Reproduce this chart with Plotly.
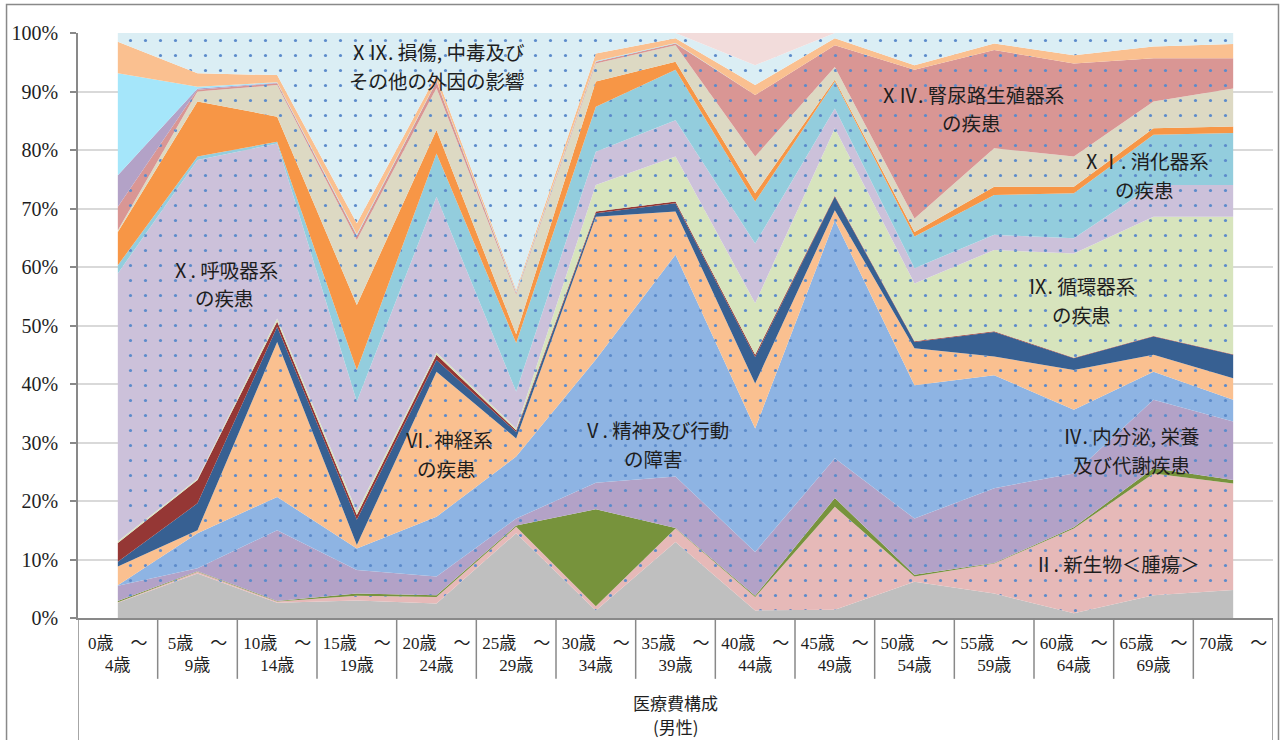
import plotly.graph_objects as go

# ---- categories ----
age_labels = ["0歳　～<br>4歳", "5歳　～<br>9歳", "10歳　～<br>14歳", "15歳　～<br>19歳",
              "20歳　～<br>24歳", "25歳　～<br>29歳", "30歳　～<br>34歳", "35歳　～<br>39歳",
              "40歳　～<br>44歳", "45歳　～<br>49歳", "50歳　～<br>54歳", "55歳　～<br>59歳",
              "60歳　～<br>64歳", "65歳　～<br>69歳", "70歳　～"]
y_ticks = [0, 10, 20, 30, 40, 50, 60, 70, 80, 90, 100]
y_tick_text = ["0%", "10%", "20%", "30%", "40%", "50%", "60%", "70%", "80%", "90%", "100%"]

# ---- series values (share of medical cost, %) ----
s01_infectious = [2.6, 7.6, 2.6, 3.0, 2.5, 14.5, 1.3, 13.0, 1.3, 1.4, 6.2, 4.2, 0.8, 3.9, 4.8]
s02_neoplasm   = [0.1, 0.3, 0.2, 0.8, 1.1, 1.1, 0.7, 2.3, 2.3, 17.6, 0.9, 5.1, 14.5, 20.8, 18.2]
s03_blood      = [0.2, 0.1, 0.1, 0.4, 0.3, 0.2, 16.6, 0.1, 0.2, 1.5, 0.3, 0.1, 0.2, 0.9, 0.6]
s04_endocrine  = [2.6, 0.5, 12.1, 4.0, 3.2, 1.2, 4.5, 8.8, 7.5, 6.8, 9.6, 12.8, 9.2, 11.7, 10.0]
s05_mental     = [0.1, 6.0, 5.7, 3.7, 10.2, 10.6, 21.1, 37.9, 21.1, 40.7, 22.8, 19.3, 10.9, 4.8, 3.7]
s06_nervous    = [3.2, 0.5, 26.5, 0.6, 24.8, 3.1, 24.4, 7.4, 7.7, 1.7, 6.3, 3.2, 6.8, 2.9, 3.7]
s07_eye        = [0.8, 4.6, 2.6, 4.3, 2.0, 1.1, 0.6, 1.4, 4.5, 2.3, 1.1, 4.2, 2.0, 3.1, 4.0]
s08_ear        = [3.2, 4.0, 0.9, 0.8, 0.9, 0.3, 0.3, 0.3, 0.4, 0.2, 0.1, 0.1, 0.1, 0.1, 0.1]
s09_circul     = [0.3, 0.2, 0.5, 0.6, 0.4, 0.3, 4.5, 7.7, 8.8, 11.5, 9.9, 13.9, 17.8, 20.4, 23.5]
s10_resp       = [45.8, 54.5, 29.9, 18.8, 26.6, 6.3, 5.7, 6.2, 10.2, 3.4, 2.6, 2.6, 2.6, 5.4, 5.4]
s11_digest     = [1.4, 0.6, 0.3, 5.4, 7.4, 8.3, 7.7, 8.6, 7.2, 4.6, 5.4, 6.8, 7.7, 8.6, 8.9]
s12_skin       = [5.7, 9.4, 4.3, 11.1, 4.0, 1.5, 4.3, 1.4, 1.4, 0.3, 0.8, 1.4, 1.1, 1.1, 1.1]
s13_musculo    = [0.3, 1.7, 5.4, 11.1, 7.2, 6.8, 3.1, 2.8, 6.3, 2.2, 2.3, 6.6, 5.2, 4.6, 6.5]
s14_genito     = [4.0, 0.3, 0.3, 0.8, 1.1, 0.3, 0.3, 0.3, 10.5, 3.7, 25.4, 16.8, 15.9, 7.4, 5.2]
s16_perinatal  = [5.4, 0.2, 0.1, 0.0, 0.0, 0.0, 0.0, 0.0, 0.0, 0.0, 0.0, 0.0, 0.0, 0.0, 0.0]
s17_congenital = [17.4, 0.3, 0.1, 0.2, 0.1, 0.2, 0.1, 0.1, 0.0, 0.0, 0.0, 0.0, 0.0, 0.0, 0.0]
s18_symptoms   = [5.4, 2.3, 1.2, 1.9, 1.0, 0.3, 1.3, 0.8, 1.7, 1.2, 0.8, 1.1, 1.4, 2.0, 2.4]
s19_injury     = [1.5, 6.9, 7.2, 32.5, 7.2, 43.9, 3.5, 0.9, 3.4, 0.9, 5.5, 1.8, 3.8, 2.3, 1.9]
s22_other      = [0.0, 0.0, 0.0, 0.0, 0.0, 0.0, 0.0, 0.0, 5.5, 0.0, 0.0, 0.0, 0.0, 0.0, 0.0]

series = [
    ("Ⅰ．感染症及び寄生虫症", s01_infectious, "#BFBFBF", False),
    ("Ⅱ．新生物", s02_neoplasm, "#E6B9B8", True),
    ("Ⅲ．血液及び造血器の疾患", s03_blood, "#77933C", False),
    ("Ⅳ．内分泌，栄養及び代謝疾患", s04_endocrine, "#B3A2C7", True),
    ("Ⅴ．精神及び行動の障害", s05_mental, "#8EB4E3", True),
    ("Ⅵ．神経系の疾患", s06_nervous, "#FAC090", True),
    ("Ⅶ．眼及び付属器の疾患", s07_eye, "#376092", False),
    ("Ⅷ．耳及び乳様突起の疾患", s08_ear, "#953735", False),
    ("Ⅸ．循環器系の疾患", s09_circul, "#D7E4BD", True),
    ("Ⅹ．呼吸器系の疾患", s10_resp, "#CCC1DA", True),
    ("ⅩⅠ．消化器系の疾患", s11_digest, "#93CDDD", True),
    ("ⅩⅡ．皮膚及び皮下組織の疾患", s12_skin, "#F79646", False),
    ("ⅩⅢ．筋骨格系及び結合組織の疾患", s13_musculo, "#DDD9C3", True),
    ("ⅩⅣ．腎尿路生殖器系の疾患", s14_genito, "#D99694", True),
    ("ⅩⅥ．周産期に発生した病態", s16_perinatal, "#B3A2C7", False),
    ("ⅩⅦ．先天奇形", s17_congenital, "#A5E6FA", False),
    ("ⅩⅧ．症状，徴候及び異常臨床所見", s18_symptoms, "#FAC090", False),
    ("ⅩⅨ．損傷，中毒及びその他の外因の影響", s19_injury, "#DBEEF4", True),
    ("その他", s22_other, "#F2DCDB", False),
]

x_idx = list(range(len(age_labels)))
fig = go.Figure()
for name, vals, color, dotted in series:
    kw = {}
    if dotted:
        kw["fillpattern"] = dict(shape=".", fgcolor="#5C8BCB", bgcolor=color,
                                 size=15, solidity=0.035, fillmode="replace")
    fig.add_trace(go.Scatter(
        x=x_idx, y=vals, name=name, mode="lines", stackgroup="one",
        fillcolor=color, line=dict(width=0, color=color), hoverinfo="name+y", **kw))

# ---- labels inside the areas (one annotation per text line) ----
lab_font = dict(family="Noto Sans CJK JP", size=19.5, color="#1E1E1E")
label_lines = [
    (4.01, 96.81, "ⅩⅨ. 損傷, 中毒及び"),
    (4.01, 91.91, "その他の外因の影響"),
    (1.34, 59.63, "Ⅹ. 呼吸器系"),
    (1.34, 54.73, "の疾患"),
    (4.16, 30.49, "Ⅵ. 神経系"),
    (4.13, 25.59, "の疾患"),
    (6.75, 32.20, "Ⅴ. 精神及び行動"),
    (6.73, 27.30, "の障害"),
    (10.72, 89.55, "ⅩⅣ. 腎尿路生殖器系"),
    (10.72, 84.65, "の疾患"),
    (12.90, 78.18, "ⅩⅠ. 消化器系"),
    (12.89, 73.28, "の疾患"),
    (12.10, 56.81, "Ⅸ. 循環器系"),
    (12.09, 51.91, "の疾患"),
    (12.73, 31.17, "Ⅳ. 内分泌, 栄養"),
    (12.73, 26.27, "及び代謝疾患"),
    (12.54, 9.40, "Ⅱ. 新生物＜腫瘍＞"),
]
for lx, ly, txt in label_lines:
    fig.add_annotation(x=lx, y=ly, xref="x", yref="y", text=txt, showarrow=False,
                       font=lab_font, align="center")

# group label under the category table
grp_font = dict(family="Noto Sans CJK JP", size=17, color="#1E1E1E")
fig.add_annotation(x=0.5, y=-0.145, xref="paper", yref="paper", text="医療費構成",
                   showarrow=False, font=grp_font, yanchor="middle")
fig.add_annotation(x=0.5, y=-0.186, xref="paper", yref="paper", text="(男性)",
                   showarrow=False, font=grp_font, yanchor="middle")

axis_col = "#898989"
shapes = []
n = len(age_labels)
for i in range(n + 1):
    bottom = -0.3 if i in (0, n) else -0.104
    shapes.append(dict(type="line", xref="x", yref="paper", x0=i - 0.5, x1=i - 0.5,
                       y0=0, y1=bottom, line=dict(color=axis_col, width=1.5)))
# outer chart frame
shapes.append(dict(type="rect", xref="paper", yref="paper", x0=-0.0598, x1=1.0046,
                   y0=-0.3, y1=1.0487, line=dict(color=axis_col, width=1.5),
                   fillcolor="rgba(0,0,0,0)", layer="above"))

fig.update_layout(
    width=1283, height=740,
    margin=dict(l=78, r=10, t=33, b=122),
    paper_bgcolor="white", plot_bgcolor="white",
    showlegend=False,
    shapes=shapes,
    xaxis=dict(range=[-0.5, n - 0.5], tickmode="array", tickvals=x_idx, ticktext=age_labels,
               showgrid=False, zeroline=False, showline=True, linecolor=axis_col, linewidth=1.5,
               ticks="", ticklabelstandoff=9,
               tickfont=dict(family="Liberation Serif, Noto Sans CJK JP", size=17, color="#1E1E1E"),
               fixedrange=True),
    yaxis=dict(range=[0, 100], tickmode="array", tickvals=y_ticks, ticktext=y_tick_text,
               showgrid=True, gridcolor="#D9D9D9", gridwidth=1.5, zeroline=False,
               showline=True, linecolor=axis_col, linewidth=1.5,
               ticks="outside", ticklen=6, tickcolor=axis_col, tickwidth=1.5,
               ticklabelstandoff=8,
               tickfont=dict(family="Liberation Serif, serif", size=20, color="#1E1E1E"),
               fixedrange=True),
)

fig.write_html("out.html", config={"displayModeBar": False},
               post_script="document.body.style.margin='0';document.body.style.overflow='hidden';")
